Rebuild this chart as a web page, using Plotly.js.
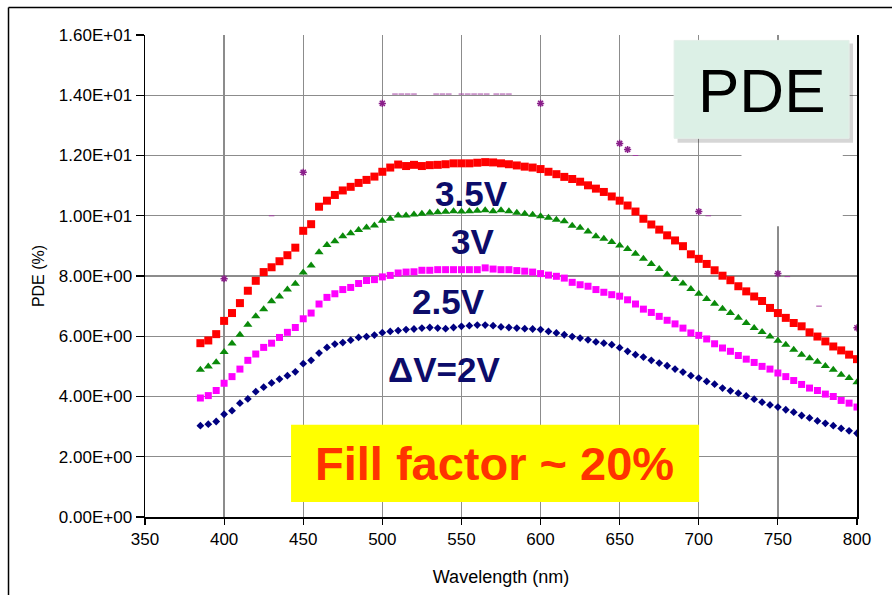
<!DOCTYPE html>
<html>
<head>
<meta charset="utf-8">
<script src="https://cdn.plot.ly/plotly-3.0.1.min.js"></script>
<style>html,body{margin:0;padding:0;background:#fff;}#chart{width:892px;height:595px;}</style>
</head>
<body>
<div id="chart"></div>
<script>
// ---- data ----
const wavelength = [385,390,395,400,405,410,415,420,425,430,435,440,445,450,455,460,465,470,475,480,485,490,495,500,505,510,515,520,525,530,535,540,545,550,555,560,565,570,575,580,585,590,595,600,605,610,615,620,625,630,635,640,645,650,655,660,665,670,675,680,685,690,695,700,705,710,715,720,725,730,735,740,745,750,755,760,765,770,775,780,785,790,795,800];

const pde35V = [5.77,5.86,6.07,6.51,6.77,7.10,7.51,7.84,8.13,8.29,
  8.49,8.69,8.94,9.50,9.72,10.30,10.50,10.69,10.84,10.96,
  11.09,11.19,11.30,11.46,11.60,11.70,11.65,11.69,11.65,11.68,
  11.69,11.71,11.74,11.74,11.74,11.76,11.78,11.77,11.74,11.71,
  11.67,11.63,11.60,11.55,11.46,11.38,11.29,11.22,11.13,11.01,
  10.90,10.79,10.64,10.50,10.34,10.14,9.90,9.71,9.54,9.35,
  9.18,8.99,8.72,8.57,8.40,8.19,8.01,7.86,7.66,7.49,
  7.32,7.17,6.94,6.77,6.61,6.44,6.33,6.13,5.99,5.83,
  5.66,5.53,5.39,5.24];

const pde3V = [4.89,5.00,5.14,5.48,5.76,6.05,6.38,6.66,6.90,7.16,
  7.32,7.55,7.74,8.12,8.35,8.79,9.03,9.15,9.32,9.42,
  9.53,9.61,9.68,9.83,9.90,10.01,10.01,10.04,10.07,10.10,
  10.12,10.13,10.15,10.14,10.15,10.17,10.18,10.15,10.18,10.15,
  10.10,10.07,10.03,9.98,9.93,9.87,9.82,9.67,9.60,9.48,
  9.32,9.24,9.13,9.01,8.90,8.74,8.57,8.40,8.23,8.05,
  7.90,7.75,7.57,7.41,7.24,7.08,6.91,6.77,6.61,6.44,
  6.27,6.14,5.99,5.85,5.72,5.55,5.39,5.27,5.15,5.01,
  4.89,4.72,4.61,4.47];

const pde25V = [3.95,4.03,4.20,4.44,4.66,4.91,5.20,5.41,5.63,5.77,
  5.96,6.13,6.29,6.58,6.77,7.07,7.29,7.41,7.55,7.62,
  7.75,7.85,7.88,7.97,8.02,8.10,8.13,8.14,8.19,8.19,
  8.21,8.21,8.21,8.21,8.21,8.21,8.27,8.23,8.21,8.21,
  8.18,8.16,8.13,8.08,8.03,7.99,7.93,7.79,7.71,7.66,
  7.55,7.46,7.38,7.33,7.21,7.07,6.90,6.79,6.66,6.53,
  6.41,6.27,6.11,6.03,5.91,5.75,5.61,5.50,5.36,5.24,
  5.13,5.00,4.91,4.78,4.66,4.53,4.40,4.28,4.20,4.08,
  4.00,3.87,3.78,3.65];

const pde2V = [3.03,3.08,3.17,3.41,3.53,3.78,3.92,4.16,4.31,4.45,
  4.58,4.69,4.82,5.09,5.20,5.44,5.63,5.74,5.79,5.87,
  5.96,5.99,6.04,6.12,6.16,6.19,6.22,6.24,6.27,6.29,
  6.27,6.25,6.29,6.33,6.35,6.37,6.37,6.35,6.31,6.29,
  6.27,6.25,6.24,6.22,6.16,6.11,6.05,5.99,5.94,5.88,
  5.81,5.77,5.72,5.62,5.50,5.39,5.31,5.20,5.11,5.02,
  4.91,4.81,4.69,4.61,4.50,4.41,4.28,4.19,4.11,4.02,
  3.91,3.81,3.72,3.65,3.56,3.48,3.37,3.29,3.19,3.11,
  3.03,2.94,2.86,2.78];

// sparse purple series (partly hidden in the original)
const crossWl  = [400,450,500,600,650,655,700,750,800];
const crossPde = [7.91,11.44,13.73,13.73,12.40,12.20,10.14,8.08,6.28];
const dashWl  = [430,508,512,516,520,534,538,542,550,554,558,562,566,572,576,580,660,706,756,776];
const dashPde = [10.0,14.04,14.04,14.04,14.04,14.04,14.04,14.04,14.04,14.04,14.04,14.04,14.04,14.04,14.04,14.04,12.0,10.0,7.98,7.0];

const yTickVals   = [0,2,4,6,8,10,12,14,16];
const yTickLabels = ["0.00E+00","2.00E+00","4.00E+00","6.00E+00","8.00E+00","1.00E+01","1.20E+01","1.40E+01","1.60E+01"];

const seriesLabels = ["3.5V","3V","2.5V","\u0394V=2V"];
const boxTitle = "PDE";
const fillText = "Fill factor ~ 20%";

// ---- chart ----
const FONT = "Liberation Sans, Arial, sans-serif";
const NAVY = "#0c0c6a";

const traces = [
  {x: wavelength, y: pde35V, type: "scatter", mode: "markers", name: seriesLabels[0],
   marker: {symbol: "square", size: 8, color: "#ff0000"}},
  {x: wavelength, y: pde3V, type: "scatter", mode: "markers", name: seriesLabels[1],
   marker: {symbol: "triangle-up", size: 8, color: "#0a8a0a"}},
  {x: wavelength, y: pde25V, type: "scatter", mode: "markers", name: seriesLabels[2],
   marker: {symbol: "square", size: 7, color: "#ff00ff"}},
  {x: wavelength, y: pde2V, type: "scatter", mode: "markers", name: seriesLabels[3],
   marker: {symbol: "diamond", size: 6, color: "#000080"}},
  {x: crossWl, y: crossPde, type: "scatter", mode: "markers", name: "x",
   marker: {symbol: "asterisk-open", size: 6, color: "#8a1f8a", line: {color: "#8a1f8a", width: 1.5}}},
  {x: dashWl, y: dashPde, type: "scatter", mode: "markers", name: "dash",
   marker: {symbol: "line-ew-open", size: 4, color: "#a040a0", line: {color: "#a040a0", width: 1}}}
];

const layout = {
  width: 892, height: 595,
  margin: {l: 145, r: 35, t: 35, b: 78},
  paper_bgcolor: "#ffffff", plot_bgcolor: "#ffffff",
  showlegend: false,
  font: {family: FONT, color: "#000"},
  xaxis: {
    range: [350, 800], tick0: 350, dtick: 50,
    showgrid: true, gridcolor: "#8c8c8c", gridwidth: 1.3,
    zeroline: false, showline: true, linecolor: "#000", linewidth: 1.5,
    ticks: "outside", ticklen: 6, tickcolor: "#000", tickwidth: 1.2,
    tickfont: {family: FONT, size: 17, color: "#000"},
    title: {text: "Wavelength (nm)", font: {family: FONT, size: 18, color: "#000"}, standoff: 22}
  },
  yaxis: {
    range: [0, 16], tickvals: yTickVals, ticktext: yTickLabels,
    showgrid: true, gridcolor: "#8c8c8c", gridwidth: 1.3,
    zeroline: false, showline: true, mirror: true, linecolor: "#000", linewidth: 1.5,
    ticks: "outside", ticklen: 8, tickcolor: "#000", tickwidth: 1.2,
    tickfont: {family: FONT, size: 17, color: "#000"},
    title: {text: "PDE (%)", font: {family: FONT, size: 16, color: "#000"}, standoff: 10}
  },
  shapes: [
    // gap in gridlines (hidden label area in the original)
    {type: "rect", xref: "x", yref: "y", x0: 727, x1: 791, y0: 9.65, y1: 12.6,
     fillcolor: "#ffffff", line: {width: 0}, layer: "between"},
    // PDE box shadow and box
    {type: "rect", xref: "x", yref: "y", x0: 686.6, x1: 797.5, y0: 12.42, y1: 15.72,
     fillcolor: "rgba(0,0,0,0.16)", line: {width: 0}},
    {type: "rect", xref: "x", yref: "y", x0: 684.4, x1: 795.0, y0: 12.57, y1: 15.82,
     fillcolor: "#dcf0e6", line: {color: "#e4efe9", width: 1}},
    // yellow fill-factor box
    {type: "rect", xref: "x", yref: "y", x0: 442.3, x1: 700.2, y0: 0.50, y1: 3.06,
     fillcolor: "#ffff00", line: {width: 0}},
    // outer frame (left and top)
    {type: "line", xref: "paper", yref: "paper", x0: -0.1917, x1: -0.1917, y0: -0.25, y1: 1.0571,
     line: {color: "#000", width: 1.5}},
    {type: "line", xref: "paper", yref: "paper", x0: -0.1917, x1: 1.1, y0: 1.0571, y1: 1.0571,
     line: {color: "#000", width: 1.5}}
  ],
  annotations: [
    {x: 556.4, y: 10.74, xref: "x", yref: "y", text: "<b>" + seriesLabels[0] + "</b>", showarrow: false,
     font: {family: FONT, size: 35, color: NAVY}},
    {x: 557, y: 9.13, xref: "x", yref: "y", text: "<b>" + seriesLabels[1] + "</b>", showarrow: false,
     font: {family: FONT, size: 35, color: NAVY}},
    {x: 541.5, y: 7.16, xref: "x", yref: "y", text: "<b>" + seriesLabels[2] + "</b>", showarrow: false,
     font: {family: FONT, size: 35, color: NAVY}},
    {x: 538.7, y: 4.90, xref: "x", yref: "y", text: "<b>" + seriesLabels[3] + "</b>", showarrow: false,
     font: {family: FONT, size: 35, color: NAVY}},
    {x: 739.4, y: 14.16, xref: "x", yref: "y", text: boxTitle, showarrow: false,
     font: {family: FONT, size: 62, color: "#000"}},
    {x: 570.8, y: 1.79, xref: "x", yref: "y", text: "<b>" + fillText + "</b>", showarrow: false,
     font: {family: FONT, size: 47, color: "#ff3300"}}
  ]
};

Plotly.newPlot("chart", traces, layout, {staticPlot: true, displayModeBar: false});
</script>
</body>
</html>
